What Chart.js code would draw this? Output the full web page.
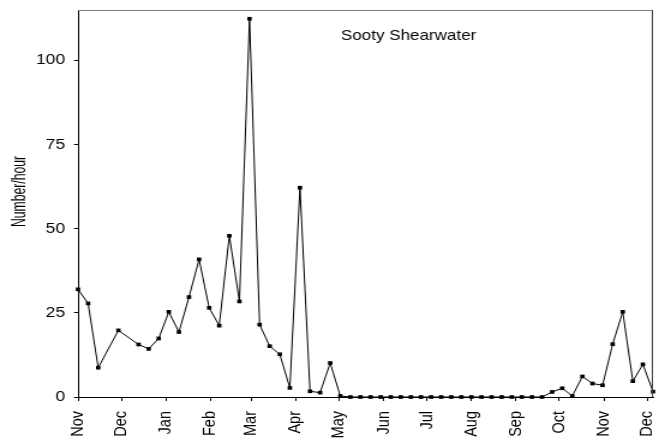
<!DOCTYPE html>
<html>
<head>
<meta charset="utf-8">
<title>Sooty Shearwater</title>
<script src="https://cdn.jsdelivr.net/npm/chart.js@4/dist/chart.umd.min.js"></script>
<style>
  html, body { margin: 0; padding: 0; background: #fff; }
</style>
</head>
<body>
<!-- the drawing is done on a narrower canvas and widened to the page size -->
<canvas id="shearwater-chart" width="549" height="440" style="display:block;width:659px;height:440px"></canvas>
<script>
// Survey dates as days counted from 1 November
const surveyDays = [
  0, 7, 14, 28, 42, 49, 56, 63, 70, 77, 84, 91, 98, 105, 112, 119, 126, 133, 140, 147,
  154, 161, 168, 175, 182, 189, 196, 203, 210, 217, 224, 231, 238, 245, 252, 259, 266,
  273, 280, 287, 294, 301, 308, 315, 322, 329, 336, 343, 350, 357, 364, 371, 378, 385,
  392, 399
];

// Birds counted per hour of observation
const birdsPerHour = [
  32.0, 27.8, 8.7, 19.8, 15.6, 14.3, 17.4, 25.3, 19.3, 29.7, 40.9, 26.5, 21.2, 47.9, 28.4,
  112.4, 21.5, 15.1, 12.7, 2.7, 62.2, 1.7, 1.3, 10.1, 0.3, 0, 0, 0, 0, 0, 0, 0, 0, 0, 0,
  0, 0, 0, 0, 0, 0, 0, 0, 0, 0, 1.5, 2.6, 0.3, 6.1, 4.0, 3.5, 15.7, 25.3, 4.7, 9.7, 1.6
];

// Month boundaries on the same day scale
const monthStarts = [0, 30, 61, 92, 120, 151, 181, 212, 242, 273, 304, 334, 365, 395];
const monthNames = ['Nov', 'Dec', 'Jan', 'Feb', 'Mar', 'Apr', 'May', 'Jun', 'Jul', 'Aug', 'Sep', 'Oct', 'Nov', 'Dec'];
const yTicks = [0, 25, 50, 75, 100];

const fontFamily = "'Liberation Sans', Arial, sans-serif";
Chart.defaults.font.family = fontFamily;
Chart.defaults.color = '#000';

// Light frame on the top and right of the plot, the species name and the y-axis title
const frameAndLabel = {
  id: 'frameAndLabel',
  afterDraw(chart) {
    const { ctx, chartArea: a } = chart;
    ctx.save();
    ctx.lineWidth = 1;
    ctx.strokeStyle = '#808080';
    ctx.beginPath();
    ctx.moveTo(a.left, a.top + 0.5);
    ctx.lineTo(a.right, a.top + 0.5);
    ctx.stroke();
    ctx.strokeStyle = '#404040';
    ctx.beginPath();
    ctx.moveTo(a.right - 0.5, a.top);
    ctx.lineTo(a.right - 0.5, a.bottom);
    ctx.stroke();

    ctx.fillStyle = '#000';
    ctx.font = '14.2px ' + fontFamily;
    ctx.textAlign = 'left';
    ctx.textBaseline = 'alphabetic';
    ctx.fillText('Sooty Shearwater', 284, 39.5);

    // vertical axis title, a little taller than the tick labels
    ctx.translate(17.1, 191.5);
    ctx.scale(1.3, 1);
    ctx.rotate(-Math.PI / 2);
    ctx.font = '12.2px ' + fontFamily;
    ctx.textAlign = 'center';
    ctx.textBaseline = 'middle';
    ctx.fillText('Number/hour', 0, 0);
    ctx.restore();
  }
};

const points = surveyDays.map((d, i) => ({ x: d, y: birdsPerHour[i] }));

new Chart(document.getElementById('shearwater-chart'), {
  type: 'line',
  data: {
    datasets: [{
      data: points,
      borderColor: '#000',
      borderWidth: 1,
      tension: 0,
      pointStyle: 'rect',
      pointRadius: 2.6,
      pointBorderWidth: 0,
      pointBackgroundColor: '#000',
      clip: false
    }]
  },
  options: {
    responsive: false,
    animation: false,
    layout: { padding: { top: 10, right: 5, bottom: 0, left: 0 } },
    plugins: { legend: { display: false }, tooltip: { enabled: false } },
    scales: {
      x: {
        type: 'linear',
        min: 0,
        max: 399,
        afterBuildTicks: (scale) => { scale.ticks = monthStarts.map(v => ({ value: v })); },
        afterFit: (scale) => {
          scale.height = 43;
          scale.paddingLeft = 0;
          scale.paddingRight = 0;
        },
        grid: { drawOnChartArea: false, drawTicks: true, tickLength: 4, tickColor: '#000' },
        border: { color: '#000', width: 1 },
        ticks: {
          autoSkip: false,
          minRotation: 90,
          maxRotation: 90,
          padding: 10,
          font: { size: 14.5 },
          callback: (v, i) => monthNames[i]
        }
      },
      y: {
        min: 0,
        max: 115,
        afterBuildTicks: (scale) => { scale.ticks = yTicks.map(v => ({ value: v })); },
        afterFit: (scale) => {
          scale.width = 65;
          scale.paddingTop = 0;
          scale.paddingBottom = 0;
        },
        grid: { drawOnChartArea: false, drawTicks: true, tickLength: 3.3, tickColor: '#000' },
        border: { color: '#000', width: 1 },
        ticks: { padding: 7.5, font: { size: 14.5 } }
      }
    }
  },
  plugins: [frameAndLabel]
});
</script>
</body>
</html>
